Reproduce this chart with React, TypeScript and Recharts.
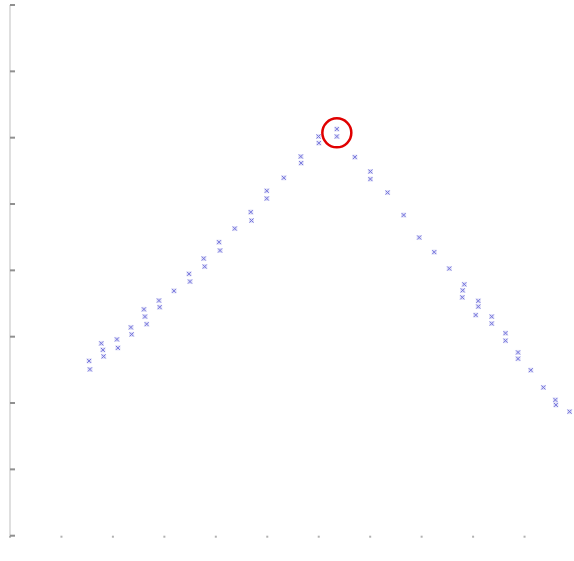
import React from "react";
import { ScatterChart, Scatter, XAxis, YAxis, ReferenceDot } from "recharts";

// Rising branch (left side)
const risingX = [
  1.537, 1.553,
  1.774, 1.805, 1.819,
  2.078, 2.097,
  2.35, 2.364,
  2.603, 2.623, 2.656,
  2.895, 2.909,
  3.187,
  3.479, 3.498,
  3.765, 3.784,
  4.062, 4.082,
  4.368,
  4.679, 4.693,
  4.99, 4.99,
  5.321,
  5.652, 5.658,
  5.996, 6.002,
  6.352, 6.352,
];
const risingY = [
  2.635, 2.507,
  2.899, 2.801, 2.703,
  2.959, 2.831,
  3.14, 3.035,
  3.412, 3.303, 3.189,
  3.545, 3.445,
  3.691,
  3.947, 3.831,
  4.178, 4.057,
  4.425, 4.299,
  4.63,
  4.878, 4.751,
  5.199, 5.083,
  5.395,
  5.716, 5.617,
  6.018, 5.919,
  6.13, 6.018,
];

// Falling branch (right side)
const fallingX = [
  6.702,
  7.004, 7.004,
  7.338,
  7.65,
  7.953,
  8.245,
  8.537,
  8.829, 8.798, 8.79,
  9.101, 9.101, 9.051,
  9.362, 9.362,
  9.63, 9.63,
  9.874, 9.874,
  10.121,
  10.366,
  10.599, 10.609,
  10.875,
];
const fallingY = [
  5.707,
  5.49, 5.376,
  5.173,
  4.833,
  4.495,
  4.275,
  4.027,
  3.789, 3.698, 3.593,
  3.54, 3.454, 3.326,
  3.303, 3.198,
  3.053, 2.94,
  2.763, 2.668,
  2.495,
  2.235,
  2.047, 1.971,
  1.87,
];

// Highlighted peak
const peakX = 6.352;
const peakY = 6.074;

const xTicks = [0, 1, 2, 3, 4, 5, 6, 7, 8, 9, 10, 11];
const yTicks = [0, 1, 2, 3, 4, 5, 6, 7, 8];

const points = [
  ...risingX.map((x, i) => ({ x, y: risingY[i] })),
  ...fallingX.map((x, i) => ({ x, y: fallingY[i] })),
];

const Cross = (props: any) => {
  const { cx, cy } = props;
  if (cx == null || cy == null) return <g />;
  const s = 2;
  return (
    <g>
      <rect x={cx - 2.5} y={cy - 2.5} width={5} height={5} fill="#c4c4f2" opacity={0.5} />
      <path
        d={`M${cx - s},${cy - s}L${cx + s},${cy + s}M${cx - s},${cy + s}L${cx + s},${cy - s}`}
        stroke="#7474dc"
        strokeWidth={1}
        fill="none"
      />
    </g>
  );
};

const NoLabel = () => <g />;

export default function App() {
  return (
    <div
      style={{
        position: "absolute",
        left: 0,
        top: 0,
        width: 574,
        height: 561,
        overflow: "hidden",
        background: "#fff",
      }}
    >
      <ScatterChart
        width={576}
        height={561}
        margin={{ top: 5, right: 0, bottom: 0, left: 4 }}
      >
        <XAxis
          type="number"
          dataKey="x"
          domain={[0, 11]}
          ticks={xTicks}
          allowDataOverflow
          height={25.3}
          axisLine={false}
          tickLine={{ stroke: "#b0b0b0", strokeWidth: 2 }}
          tickSize={2}
          tick={NoLabel}
        />
        <YAxis
          type="number"
          dataKey="y"
          domain={[0, 8]}
          ticks={yTicks}
          allowDataOverflow
          width={6}
          axisLine={{ stroke: "#d4d4d4", strokeWidth: 1.5 }}
          tickLine={{ stroke: "#909090", strokeWidth: 2 }}
          tickSize={-5}
          tick={NoLabel}
        />
        <Scatter data={points} shape={Cross} isAnimationActive={false} />
        <ReferenceDot
          x={peakX}
          y={peakY}
          r={14.5}
          fill="none"
          stroke="#e00000"
          strokeWidth={2.5}
        />
      </ScatterChart>
    </div>
  );
}
